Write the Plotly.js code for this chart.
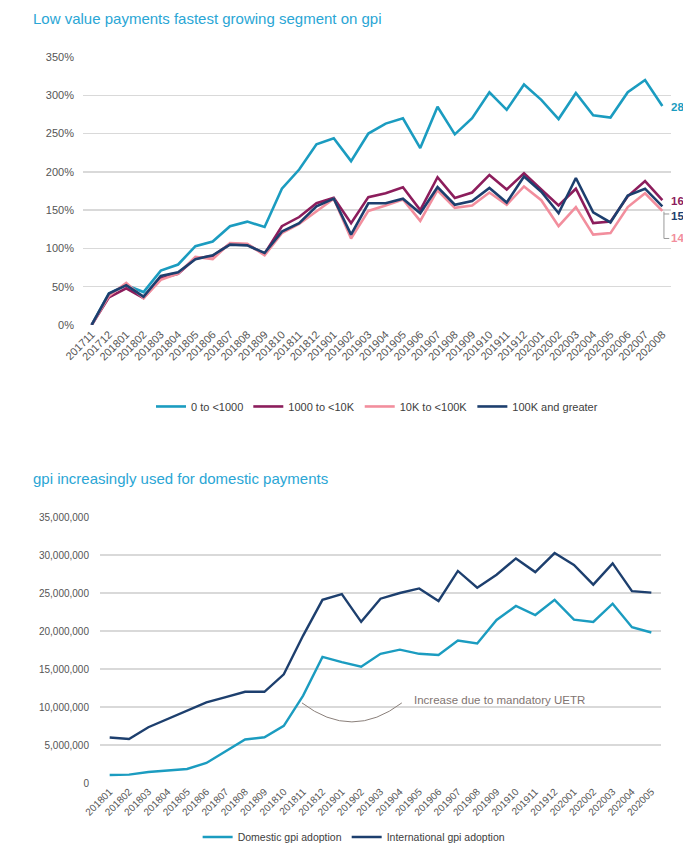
<!DOCTYPE html>
<html><head><meta charset="utf-8">
<script src="https://cdn.plot.ly/plotly-3.0.1.min.js"></script>
<style>
html,body{margin:0;padding:0;overflow:hidden;background:#fff;width:683px;height:861px}
#c1{position:absolute;left:0;top:0;width:683px;height:430px}
#c2{position:absolute;left:0;top:430px;width:683px;height:431px}
</style>
</head><body><div id="c1"></div><div id="c2"></div>
<script>
// ---------- Chart 1 data ----------
const months1 = ['201711','201712','201801','201802','201803','201804','201805','201806','201807','201808','201809','201810','201811','201812',
  '201901','201902','201903','201904','201905','201906','201907','201908','201909','201910','201911','201912',
  '202001','202002','202003','202004','202005','202006','202007','202008'];
const seriesNames1 = ['0 to <1000','1000 to <10K','10K to <100K','100K and greater'];
const val0to1000 = [0,41,52,43,71,79,103,109,129,135,128,178,203,236,244,214,250,263,270,231,285,249,270,304,281,314,294,269,303,274,271,304,320,286];
const val1000to10K = [0,36,48,35,61,67,87,90,106,105,93,129,141,159,166,133,167,172,180,150,193,166,173,196,177,198,177,156,178,133,135,168,188,163];
const val10Kto100K = [0,38,55,35,59,67,89,86,107,106,91,120,132,148,165,113,149,156,164,136,176,153,156,173,157,181,163,129,154,118,120,154,172,149];
const val100Kplus = [0,41,52,37,64,69,86,91,105,104,94,122,133,155,165,118,159,159,165,146,180,157,162,179,160,194,174,146,192,147,134,169,178,155];
const yTicks1 = [0,50,100,150,200,250,300,350];

// ---------- Chart 2 data ----------
const months2 = ['201801','201802','201803','201804','201805','201806','201807','201808','201809','201810','201811','201812',
  '201901','201902','201903','201904','201905','201906','201907','201908','201909','201910','201911','201912',
  '202001','202002','202003','202004','202005'];
const seriesNames2 = ['Domestic gpi adoption','International gpi adoption'];
const domestic = [1060000,1100000,1450000,1630000,1850000,2640000,4180000,5720000,6020000,7520000,11500000,16600000,
  15900000,15300000,17000000,17550000,17000000,16850000,18750000,18350000,21450000,23300000,22100000,24100000,
  21500000,21200000,23600000,20500000,19800000];
const international = [5980000,5800000,7340000,8400000,9540000,10600000,11300000,12000000,12000000,14300000,19400000,24100000,
  24850000,21200000,24250000,25000000,25600000,23950000,27900000,25700000,27400000,29550000,27750000,30250000,
  28700000,26100000,28900000,25250000,25050000];
const yTicks2 = [0,5000000,10000000,15000000,20000000,25000000,30000000,35000000];

// ---------- styles ----------
const FONT = 'Liberation Sans, Arial, sans-serif';
const TEAL = '#1b9cc0', MAROON = '#8c1d5c', PINK = '#f28e9d', NAVY = '#1d3f6e';
const TITLE_C = '#2aa6d5', TICK_C = '#555555', GRID_C = '#d9d9d9';

// ---------- Chart 1 ----------
const s1 = [val0to1000, val1000to10K, val10Kto100K, val100Kplus];
const c1 = [TEAL, MAROON, PINK, NAVY];
const traces1 = s1.map((v,i)=>({
  x: months1, y: v, type:'scatter', mode:'lines', name: seriesNames1[i],
  line:{color:c1[i], width:2.6}, hoverinfo:'skip'
}));
const last = a => a[a.length-1];
const endLabels = [
  {v:last(val0to1000), y:last(val0to1000)-1, c:TEAL},
  {v:last(val1000to10K), y:last(val1000to10K)-0.5, c:MAROON},
  {v:last(val100Kplus), y:143, c:NAVY},
  {v:last(val10Kto100K), y:113, c:PINK}
];
const layout1 = {
  width:683, height:430,
  margin:{l:83, r:12, t:57, b:105, autoexpand:false},
  paper_bgcolor:'#fff', plot_bgcolor:'#fff',
  font:{family:FONT, color:TICK_C},
  title:{text:'Low value payments fastest growing segment on gpi', font:{family:FONT, size:15, color:TITLE_C},
    x:33/683, xanchor:'left', xref:'container', y:1-19/430, yanchor:'middle', yref:'container'},
  xaxis:{type:'category', range:[-0.5, months1.length-0.5], showgrid:false, zeroline:false, showline:false,
    ticks:'', tickangle:-45, tickfont:{size:11, color:TICK_C, family:FONT}, fixedrange:true},
  yaxis:{range:[0,350], tickvals:yTicks1, ticktext:yTicks1.map(t=>t+'%'), showgrid:true, gridcolor:GRID_C, gridwidth:1.3,
    zeroline:false, showline:false, ticks:'', ticklabelstandoff:8, tickfont:{size:11, color:TICK_C, family:FONT}, fixedrange:true},
  legend:{orientation:'h', x:0.5, xanchor:'center', y:-0.304, yanchor:'middle', font:{size:11, color:'#404040', family:FONT},
    itemwidth:30, traceorder:'normal'},
  showlegend:true,
  annotations: endLabels.map(e=>({xref:'paper', yref:'y', x:0.996, y:e.y, xanchor:'left', yanchor:'middle',
    text:'<b>'+e.v+'%</b>', showarrow:false, font:{size:11.5, color:e.c, family:FONT}})),
  shapes:[{type:'path', xref:'paper', yref:'y', path:'M 0.988,148 L 0.988,113 L 0.997,113 M 0.988,145 L 0.997,145',
    line:{color:'#9a9a9a', width:1}}]
};
Plotly.newPlot('c1', traces1, layout1, {displayModeBar:false, staticPlot:true});

// ---------- Chart 2 ----------
const traces2 = [
  {x:months2, y:domestic, type:'scatter', mode:'lines', name:seriesNames2[0], line:{color:TEAL, width:2.4}, hoverinfo:'skip'},
  {x:months2, y:international, type:'scatter', mode:'lines', name:seriesNames2[1], line:{color:NAVY, width:2.4}, hoverinfo:'skip'}
];
const layout2 = {
  width:683, height:431,
  margin:{l:100, r:22, t:87, b:78, autoexpand:false},
  paper_bgcolor:'#fff', plot_bgcolor:'#fff',
  font:{family:FONT, color:TICK_C},
  title:{text:'gpi increasingly used for domestic payments', font:{family:FONT, size:15, color:TITLE_C},
    x:33/683, xanchor:'left', xref:'container', y:1-49/431, yanchor:'middle', yref:'container'},
  xaxis:{type:'category', range:[-0.5, months2.length-0.5], showgrid:false, zeroline:false, showline:false,
    ticks:'', tickangle:-45, tickfont:{size:10, color:TICK_C, family:FONT}, fixedrange:true},
  yaxis:{range:[0,35000000], tickvals:yTicks2, tickformat:',d', showgrid:true, gridcolor:GRID_C, gridwidth:1.3,
    zeroline:false, showline:false, ticks:'', ticklabelstandoff:10, tickfont:{size:10, color:TICK_C, family:FONT}, fixedrange:true},
  legend:{orientation:'h', x:0.453, xanchor:'center', y:-0.203, yanchor:'middle', font:{size:10.5, color:'#404040', family:FONT},
    itemwidth:30, traceorder:'normal'},
  showlegend:true,
  annotations:[{xref:'paper', yref:'y', x:0.556, y:10930000, xanchor:'left', yanchor:'middle', showarrow:false,
    text:'Increase due to mandatory UETR', font:{size:11.5, color:'#7f7471', family:FONT}}],
  shapes:[{type:'path', xref:'paper', yref:'y', path:'M 0.360,10540000 Q 0.449,5540000 0.538,10540000',
    line:{color:'#8a7f7a', width:1}}]
};
Plotly.newPlot('c2', traces2, layout2, {displayModeBar:false, staticPlot:true});
</script>
</body></html>
